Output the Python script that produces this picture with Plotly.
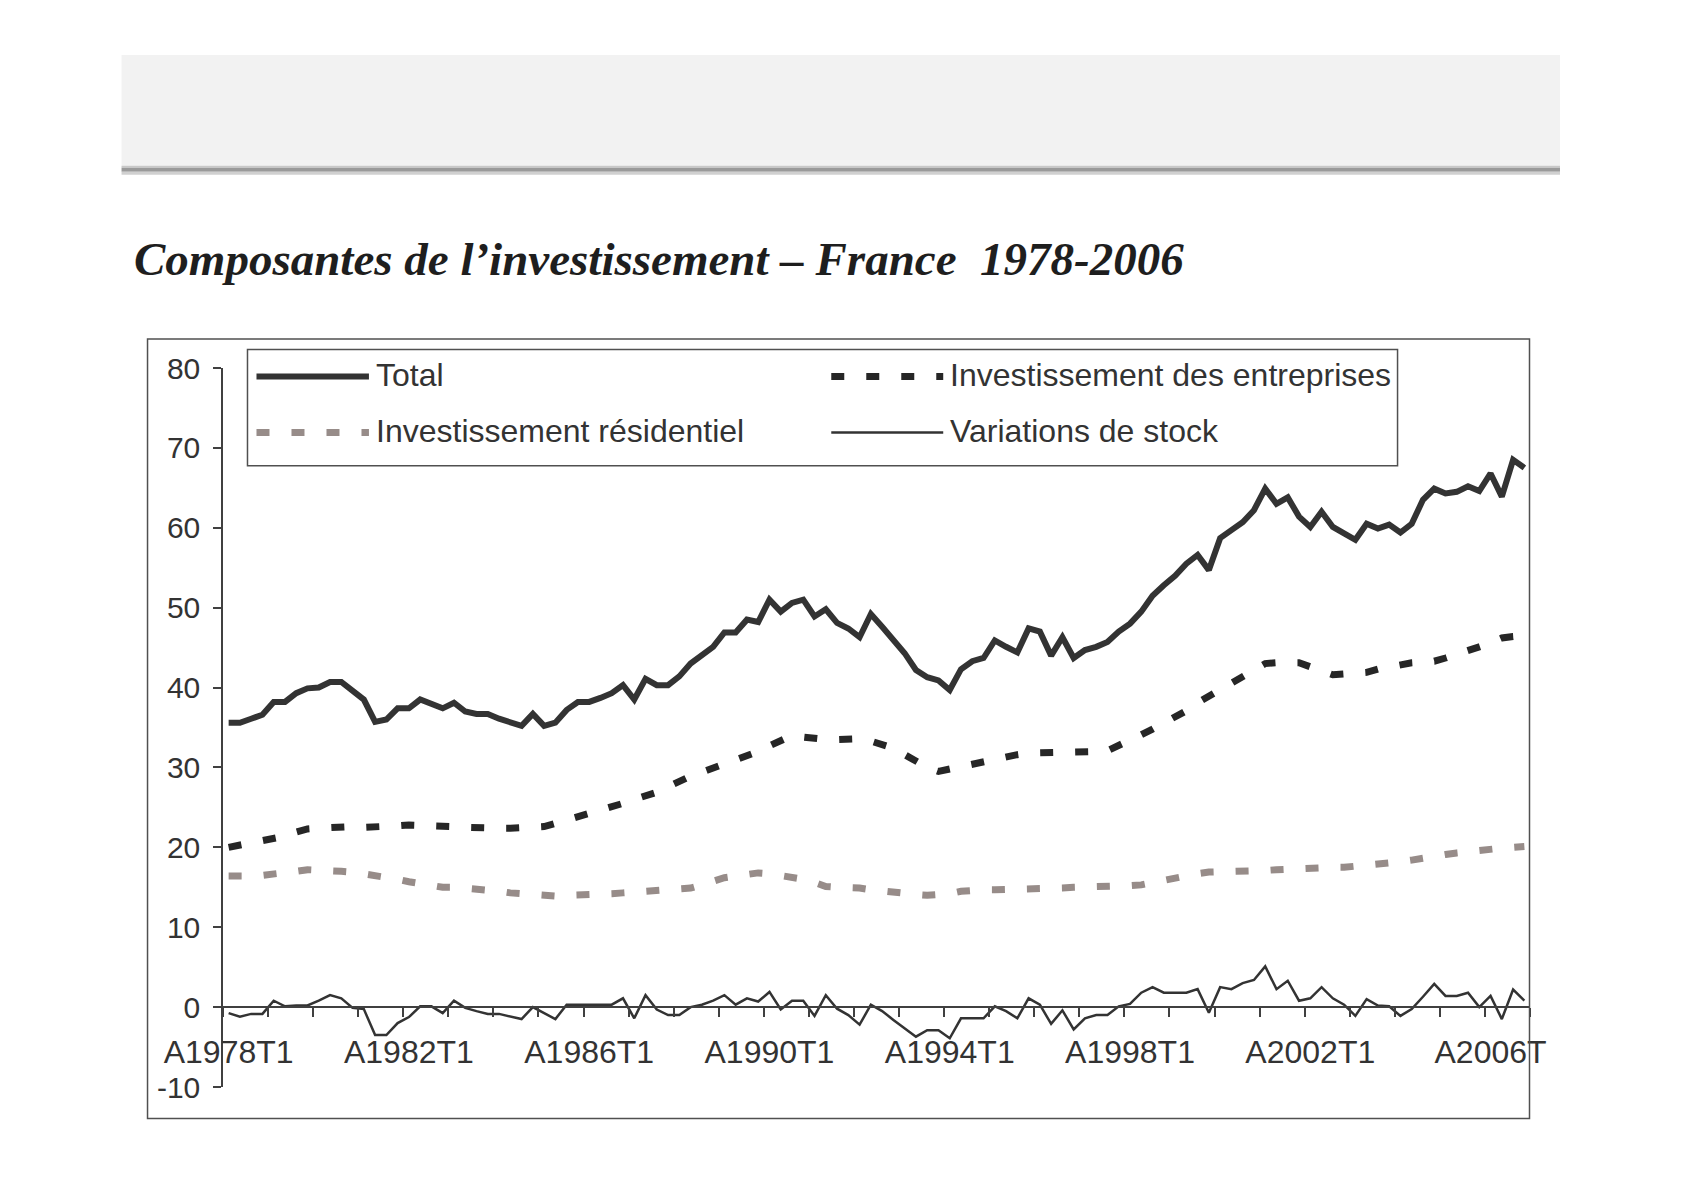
import plotly.graph_objects as go

# ---------------- data ----------------
years = list(range(1978, 2007))
categories = [f"A{y}T{q}" for y in years for q in range(1, 5)]  # 116 quarters

total = [35.6, 35.6, 36.1, 36.6, 38.2, 38.2, 39.3, 39.9, 40.0, 40.7, 40.7, 39.5, 38.5, 35.7, 36.0, 37.4,
         37.4, 38.5, 38.0, 37.4, 38.1, 37.0, 36.7, 36.7, 36.1, 35.7, 35.2, 36.7, 35.2, 35.6, 37.2, 38.2,
         38.2, 38.7, 39.3, 40.3, 38.5, 41.1, 40.3, 40.3, 41.4, 43.0, 44.1, 45.1, 46.9, 46.9, 48.5, 48.2,
         51.0, 49.5, 50.6, 51.0, 48.9, 49.8, 48.1, 47.4, 46.3, 49.2, 47.6, 46.0, 44.3, 42.2, 41.3, 40.9,
         39.7, 42.3, 43.3, 43.7, 45.9, 45.1, 44.4, 47.4, 47.0, 44.0, 46.3, 43.7, 44.7, 45.1, 45.7, 47.0,
         48.0, 49.5, 51.5, 52.8, 54.0, 55.5, 56.6, 54.7, 58.7, 59.7, 60.7, 62.2, 64.9, 63.0, 63.8, 61.4,
         60.1, 62.0, 60.1, 59.3, 58.5, 60.5, 59.9, 60.4, 59.4, 60.5, 63.5, 64.9, 64.3, 64.5, 65.2, 64.6,
         66.8, 63.9, 68.5, 67.5]

entreprises = [20.0, 20.3, 20.6, 20.8, 21.0, 21.4, 21.9, 22.3, 22.4, 22.5, 22.6, 22.6, 22.5, 22.5, 22.6, 22.7,
               22.8, 22.8, 22.7, 22.7, 22.6, 22.5, 22.4, 22.4, 22.4, 22.4, 22.5, 22.5, 22.6, 23.0, 23.4, 23.8,
               24.1, 24.6, 25.0, 25.5, 26.0, 26.4, 26.9, 27.6, 28.3, 28.9, 29.4, 29.9, 30.3, 30.9, 31.4, 32.0,
               32.7, 33.4, 34.0, 33.8, 33.6, 33.5, 33.5, 33.6, 33.6, 33.3, 32.9, 32.4, 31.6, 30.8, 30.0, 29.5,
               29.8, 30.1, 30.5, 30.9, 31.2, 31.4, 31.6, 31.8, 31.8, 31.9, 31.9, 31.9, 32.0, 32.0, 32.1, 32.7,
               33.4, 34.1, 34.8, 35.5, 36.2, 37.1, 38.1, 38.9, 39.8, 40.6, 41.4, 42.2, 43.0, 43.1, 43.1, 43.1,
               42.6, 42.1, 41.6, 41.7, 41.8, 41.9, 42.3, 42.6, 43.0, 43.1, 43.2, 43.3, 43.7, 44.1, 44.5, 45.1,
               45.6, 46.2, 46.4, 46.5]

residentiel = [16.4, 16.3, 16.4, 16.5, 16.6, 16.8, 17.0, 17.2, 17.2, 17.1, 17.0, 16.9, 16.7, 16.6, 16.3, 16.0,
               15.7, 15.4, 15.2, 15.0, 15.0, 14.9, 14.9, 14.7, 14.5, 14.3, 14.2, 14.0, 13.9, 13.9, 14.0, 14.0,
               14.1, 14.1, 14.2, 14.3, 14.4, 14.5, 14.6, 14.7, 14.8, 14.9, 15.3, 15.8, 16.2, 16.4, 16.6, 16.8,
               16.7, 16.5, 16.3, 16.0, 15.6, 15.1, 15.0, 15.0, 14.9, 14.7, 14.5, 14.3, 14.2, 14.1, 14.0, 14.0,
               14.2, 14.5, 14.7, 14.7, 14.7, 14.7, 14.7, 14.7, 14.7, 14.8, 14.9, 15.0, 15.0, 15.0, 15.0, 15.1,
               15.2, 15.3, 15.6, 15.9, 16.3, 16.5, 16.7, 16.9, 16.9, 17.0, 17.0, 17.0, 17.1, 17.2, 17.3, 17.3,
               17.4, 17.4, 17.5, 17.5, 17.6, 17.7, 17.8, 18.0, 18.2, 18.4, 18.7, 18.9, 19.1, 19.3, 19.5, 19.7,
               19.8, 19.9, 20.0, 20.1]

stock = [-0.75, -1.2, -0.85, -0.85, 0.8, 0.1, 0.2, 0.2, 0.8, 1.5, 1.1, -0.1, -0.25, -3.5, -3.5, -2.0,
         -1.25, 0.1, 0.1, -0.75, 0.8, -0.1, -0.5, -0.85, -0.85, -1.2, -1.5, 0.0, -0.7, -1.5, 0.3, 0.3,
         0.3, 0.3, 0.3, 1.1, -1.4, 1.5, -0.3, -1.0, -1.0, 0.0, 0.3, 0.8, 1.5, 0.3, 1.1, 0.7,
         1.9, -0.3, 0.8, 0.8, -1.1, 1.5, -0.2, -1.0, -2.2, 0.3, -0.5, -1.6, -2.6, -3.7, -2.9, -2.9,
         -3.9, -1.4, -1.4, -1.4, 0.1, -0.5, -1.4, 1.1, 0.3, -2.1, -0.4, -2.8, -1.4, -1.0, -1.0, 0.1,
         0.4, 1.8, 2.5, 1.8, 1.8, 1.8, 2.25, -0.7, 2.5, 2.25, 3.0, 3.4, 5.1, 2.25, 3.3, 0.8,
         1.1, 2.5, 1.1, 0.3, -1.1, 1.0, 0.2, 0.1, -1.1, -0.25, 1.3, 2.9, 1.4, 1.4, 1.8, 0.0,
         1.4, -1.5, 2.2, 0.8]

tick_labels = ["A1978T1", "A1982T1", "A1986T1", "A1990T1", "A1994T1", "A1998T1", "A2002T1", "A2006T"]
label_cats = categories[::16]
y_ticks = list(range(-10, 81, 10))
y_tick_labels = [str(v) for v in y_ticks]

series_names = ["Total", "Investissement des entreprises", "Investissement résidentiel", "Variations de stock"]
title_text = "Composantes de l\u2019investissement \u2013 France \u00a01978-2006"

# ---------------- layout geometry (pixels, page coordinates) ----------------
OFF = 8  # browser body margin
W, H = 1684 - 2 * OFF, 1190 - 2 * OFF
L, R, T, B = 222.5 - OFF, 1530.0 - OFF, 367.5 - OFF, 1087.5 - OFF
YMIN, YMAX = -10, 80

def px(x):
    return (x - OFF - L) / (R - L)

def py(y):
    return (B - (y - OFF)) / (B - T)

idx = list(range(len(categories)))
label_idx = [categories.index(c) for c in label_cats]
minor_idx = [i - 0.5 for i in range(0, len(categories) + 1, 4)]

DARK = "#333333"
AXIS = "#404040"
GRAYDASH = "#978c89"
DASH = "13px,22px"

styles = [
    dict(color=DARK, width=6),
    dict(color="#262626", width=7, dash=DASH),
    dict(color=GRAYDASH, width=7, dash=DASH),
    dict(color=DARK, width=2.5),
]
data = [total, entreprises, residentiel, stock]

fig = go.Figure()
for name, vals, st in zip(series_names, data, styles):
    fig.add_trace(go.Scatter(x=idx, y=vals, mode="lines", name=name, line=st,
                             text=categories, hovertemplate="%{text}: %{y}<extra>" + name + "</extra>",
                             showlegend=False))

font_main = "Liberation Sans, Arial, sans-serif"

fig.update_layout(
    width=W, height=H, autosize=False,
    margin=dict(l=L, r=W - R, t=T, b=H - B, pad=0),
    paper_bgcolor="white", plot_bgcolor="white",
    font=dict(family=font_main, size=30, color=DARK),
    xaxis=dict(
        range=[-0.5, len(categories) - 0.5], anchor="free", position=(0 - YMIN) / (YMAX - YMIN),
        showline=True, linecolor=AXIS, linewidth=1.5, showgrid=False, zeroline=False,
        tickmode="array", tickvals=label_idx, ticktext=tick_labels, ticks="", ticklen=0,
        ticklabelstandoff=17, tickfont=dict(size=32, color=DARK),
        minor=dict(tickmode="array", tickvals=minor_idx, ticks="outside", ticklen=9,
                   tickwidth=1.5, tickcolor=AXIS, showgrid=False),
    ),
    yaxis=dict(
        range=[YMIN, YMAX], tickmode="array", tickvals=y_ticks, ticktext=y_tick_labels,
        ticks="outside", ticklen=8, tickwidth=1.5, tickcolor=AXIS,
        showline=True, linecolor=AXIS, linewidth=1.5, showgrid=False, zeroline=False,
        ticklabelstandoff=7, tickfont=dict(size=30, color=DARK),
    ),
)

shapes = []
# grey header band and its shadow
shapes.append(dict(type="rect", xref="paper", yref="paper", x0=px(121), x1=px(1560), y0=py(54), y1=py(165),
                   fillcolor="#f2f2f2", line=dict(width=0), layer="below"))
shapes.append(dict(type="rect", xref="paper", yref="paper", x0=px(121), x1=px(1560), y0=py(165), y1=py(167),
                   fillcolor="#c8c8c8", line=dict(width=0), layer="below"))
shapes.append(dict(type="rect", xref="paper", yref="paper", x0=px(121), x1=px(1560), y0=py(167), y1=py(171),
                   fillcolor="#9a9a9a", line=dict(width=0), layer="below"))
shapes.append(dict(type="rect", xref="paper", yref="paper", x0=px(121), x1=px(1560), y0=py(171), y1=py(174),
                   fillcolor="#d0d0d0", line=dict(width=0), layer="below"))
# chart frame
shapes.append(dict(type="rect", xref="paper", yref="paper", x0=px(147), x1=px(1529.5), y0=py(338.5), y1=py(1119),
                   line=dict(color="#505050", width=1.5), fillcolor="rgba(0,0,0,0)"))
# legend box
shapes.append(dict(type="rect", xref="paper", yref="paper", x0=px(247), x1=px(1397.5), y0=py(349), y1=py(465.5),
                   line=dict(color="#505050", width=1.5), fillcolor="white"))

legend_pos = [(256, 368.5, 374, 376), (831, 943, 948, 376), (256, 368.5, 374, 432), (831, 943, 948, 432)]
annotations = []
for (x0, x1, xt, yy), name, st in zip(legend_pos, series_names, styles):
    shapes.append(dict(type="line", xref="paper", yref="paper", x0=px(x0), x1=px(x1), y0=py(yy), y1=py(yy),
                       line=st))
    annotations.append(dict(xref="paper", yref="paper", x=px(xt), y=py(yy - 1), text=name, showarrow=False,
                            xanchor="left", yanchor="middle", font=dict(family=font_main, size=32, color=DARK)))

annotations.append(dict(xref="paper", yref="paper", x=px(131), y=py(258), text="<b><i>" + title_text + "</i></b>",
                        showarrow=False, xanchor="left", yanchor="middle",
                        font=dict(family="Liberation Serif, Times New Roman, serif", size=47, color="#1e1e1e")))

fig.update_layout(shapes=shapes, annotations=annotations)

fig.write_html("out.html")
